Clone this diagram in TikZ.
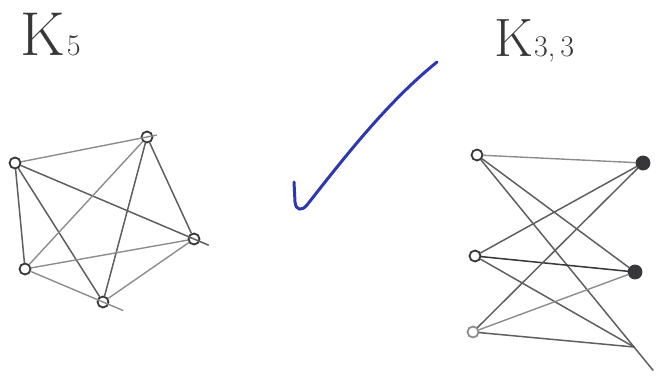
\documentclass[tikz,border=0pt]{standalone}
\definecolor{pencil}{RGB}{95,95,98}
\definecolor{pencildark}{RGB}{55,55,57}
\definecolor{pencillight}{RGB}{140,140,142}
\definecolor{ink}{RGB}{45,55,175}
\begin{document}
\begin{tikzpicture}[x=1pt,y=-1pt,
  vtx/.style={circle,draw=pencildark,line width=1.8pt,inner sep=0pt,minimum size=11pt},
  vfill/.style={vtx,fill=pencildark,minimum size=13pt},
  vfaint/.style={vtx,draw=pencillight},
  edge/.style={draw=pencil,line width=1.5pt,line cap=round},
  edgel/.style={draw=pencillight,line width=1.4pt,line cap=round},
  lbl/.style={text=pencildark,inner sep=0pt,anchor=base west}]
\useasboundingbox (0,0) rectangle (666,379);
% labels
\node[lbl] (k5) at (20,56) {\fontsize{62}{62}\selectfont K\hspace{2pt}\fontsize{30}{30}\selectfont 5};
\node[lbl] (k33) at (494,57) {\fontsize{54}{54}\selectfont K\hspace{1pt}\fontsize{30}{30}\selectfont 3,\,3};
% K5
\node[vtx] (a) at (15,163) {};
\node[vtx] (b) at (147,137) {};
\node[vtx] (c) at (194,239) {};
\node[vtx] (d) at (25,269) {};
\node[vtx] (e) at (103,302) {};
\draw[edgel,shorten >=-16pt] (a) -- (b);
\draw[edge,shorten >=-22pt] (a) -- (c);
\draw[edge] (a) -- (d);
\draw[edge] (a) -- (e);
\draw[edgel] (b) -- (d);
\draw[edge] (b) -- (e);
\draw[edge] (b) -- (c);
\draw[edgel] (d) -- (c);
\draw[edgel,shorten >=-28pt] (d) -- (e);
\draw[edgel] (e) -- (c);
% K3,3
\node[vtx] (l1) at (477,155) {};
\node[vtx] (l2) at (475,256) {};
\node[vfaint] (l3) at (473,332) {};
\node[vfill] (r1) at (643,163) {};
\node[vfill] (r2) at (635,272) {};
\coordinate (r3) at (634,347);
\draw[edgel] (l1) -- (r1);
\draw[edge] (l1) -- (r2);
\draw[edge,shorten >=-30pt] (l1) -- (r3);
\draw[edge] (l2) -- (r1);
\draw[edge,draw=pencildark] (l2) -- (r2);
\draw[edge] (l2) -- (r3);
\draw[edge] (l3) -- (r1);
\draw[edgel] (l3) -- (r2);
\draw[edge] (l3) -- (r3);
% check mark
\draw[ink,line width=3pt,line cap=round,line join=round]
  (294,182) -- (295,202) .. controls (296,211) and (302,211) .. (307,205)
  .. controls (350,150) and (390,100) .. (437,62);
\end{tikzpicture}
\end{document}
